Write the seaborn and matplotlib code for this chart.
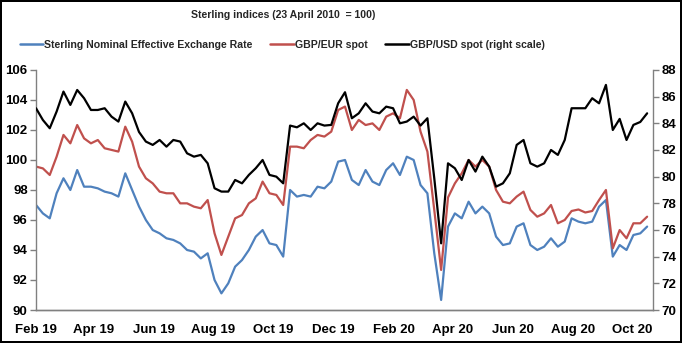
import matplotlib
matplotlib.use("Agg")
import matplotlib.pyplot as plt
import matplotlib.dates as mdates
from matplotlib.lines import Line2D
import numpy as np
import pandas as pd
import seaborn as sns

# Weekly observations, starting Friday 1 February 2019
start_date = "2019-02-01"

# Sterling effective exchange rate index (left scale)
seer = [97.0, 96.44, 96.11, 97.78, 98.78, 98.0, 99.33, 98.22, 98.22, 98.11,
        97.89, 97.78, 97.56, 99.11, 98.0, 96.9, 96.0, 95.33, 95.11, 94.78,
        94.67, 94.44, 94.0, 93.89, 93.44, 93.78, 92.0, 91.11, 91.78, 92.89,
        93.33, 94.0, 94.89, 95.33, 94.44, 94.33, 93.56, 98.0, 97.56, 97.67,
        97.56, 98.22, 98.11, 98.56, 99.89, 100.0, 98.67, 98.33, 99.33, 98.56,
        98.33, 99.33, 99.78, 99.0, 100.22, 100.0, 98.33, 97.78, 93.78, 90.67,
        95.56, 96.44, 96.11, 97.22, 96.44, 96.89, 96.44, 94.89, 94.33, 94.44,
        95.56, 95.78, 94.33, 94.0, 94.22, 94.78, 94.22, 94.56, 96.11, 95.89,
        95.78, 95.89, 96.89, 97.33, 93.56, 94.33, 94.0, 95.0, 95.11, 95.56]

# GBP/EUR spot index (left scale)
gbp_eur = [99.56, 99.44, 99.0, 100.22, 101.67, 101.11, 102.33, 101.44, 101.11, 101.33,
           100.78, 100.67, 100.56, 102.22, 101.22, 99.56, 98.78, 98.44, 97.89, 97.78,
           97.78, 97.11, 97.11, 96.89, 96.78, 97.33, 95.11, 93.67, 94.89, 96.11,
           96.33, 97.11, 97.44, 98.56, 97.78, 97.67, 97.0, 100.89, 100.89, 100.78,
           101.33, 101.67, 101.56, 101.89, 103.33, 103.56, 102.0, 102.67, 102.33, 102.44,
           102.0, 102.89, 103.11, 102.78, 104.67, 104.0, 101.89, 100.56, 96.67, 92.67,
           97.5, 98.44, 99.11, 100.0, 99.56, 100.0, 99.56, 98.0, 97.22, 97.11,
           97.56, 97.89, 96.67, 96.22, 96.44, 97.0, 95.78, 96.0, 96.6, 96.7,
           96.5, 96.6, 97.33, 98.0, 94.11, 95.33, 94.78, 95.78, 95.78, 96.22]

# GBP/USD spot index (right scale)
gbp_usd = [85.13, 84.25, 83.63, 84.88, 86.38, 85.38, 86.5, 85.88, 85.0, 85.0,
           85.13, 84.5, 84.13, 85.63, 84.75, 83.35, 82.63, 82.38, 82.75, 82.25,
           82.75, 82.63, 81.75, 81.5, 81.63, 81.0, 79.13, 78.88, 78.88, 79.75,
           79.5, 80.13, 80.63, 81.25, 80.13, 80.0, 79.5, 83.83, 83.7, 84.0,
           83.5, 84.0, 83.83, 83.88, 85.5, 86.33, 84.38, 84.75, 85.5, 84.88,
           84.75, 85.25, 85.13, 84.0, 84.13, 84.5, 83.83, 84.38, 79.88, 75.0,
           81.0, 80.63, 79.75, 81.25, 80.38, 81.5, 80.75, 79.25, 79.5, 80.25,
           82.38, 82.75, 81.0, 80.75, 81.0, 82.0, 81.63, 82.75, 85.13, 85.13,
           85.13, 85.88, 85.5, 86.88, 83.5, 84.33, 82.75, 83.88, 84.1, 84.75]

dates = pd.date_range(start_date, periods=len(seer), freq="7D")
df = pd.DataFrame({"date": dates, "seer": seer, "eur": gbp_eur, "usd": gbp_usd})

BLUE = "#4F81BD"
RED = "#C0504D"
BLACK = "#000000"
AXIS_GREY = "#808080"

sns.set_theme(style="white")
plt.rcParams["font.family"] = ["Liberation Sans", "DejaVu Sans"]
plt.rcParams["font.weight"] = "bold"

fig = plt.figure(figsize=(6.82, 3.43), dpi=100)
fig.patch.set_edgecolor("black")
fig.patch.set_linewidth(1.5)
ax = fig.add_axes([0.0528, 0.0962, 0.9047, 0.6998])
ax2 = ax.twinx()

sns.lineplot(data=df, x="date", y="seer", ax=ax, color=BLUE, linewidth=1.6)
sns.lineplot(data=df, x="date", y="eur", ax=ax, color=RED, linewidth=1.6)
sns.lineplot(data=df, x="date", y="usd", ax=ax2, color=BLACK, linewidth=1.6)

ax.set_xlim(pd.Timestamp("2019-02-01"), pd.Timestamp("2020-10-22"))
ax.set_ylim(90, 106)
ax.set_yticks(np.arange(90, 107, 2))
ax2.set_ylim(70, 88)
ax2.set_yticks(np.arange(70, 89, 2))

ax.xaxis.set_major_locator(mdates.MonthLocator(bymonth=[2, 4, 6, 8, 10, 12]))
ax.xaxis.set_major_formatter(mdates.DateFormatter("%b %y"))

for a in (ax, ax2):
    a.set_xlabel("")
    a.set_ylabel("")
    a.spines["top"].set_visible(False)
    for side in ("left", "right", "bottom"):
        a.spines[side].set_color(AXIS_GREY)
        a.spines[side].set_linewidth(1.0)
    a.tick_params(axis="both", labelsize=9.5, colors="black", length=4,
                  width=1.0, color=AXIS_GREY, direction="out", pad=2)
ax.spines["right"].set_visible(False)
ax2.spines["left"].set_visible(False)
ax.tick_params(axis="x", pad=6)
ax.tick_params(axis="y", left=True, right=False)
ax2.tick_params(axis="y", left=False, right=True)

fig.text(0.415, 0.955, "Sterling indices (23 April 2010  = 100)", ha="center",
         va="center", fontsize=7.6, fontweight="bold")

handles = [Line2D([], [], color=BLUE, linewidth=1.8),
           Line2D([], [], color=RED, linewidth=1.8),
           Line2D([], [], color=BLACK, linewidth=1.8)]
labels = ["Sterling Nominal Effective Exchange Rate", "GBP/EUR spot",
          "GBP/USD spot (right scale)"]
fig.legend(handles, labels, loc="center left", bbox_to_anchor=(0.029, 0.869),
           ncol=3, frameon=False, fontsize=7.6, handlelength=2.2,
           handletextpad=0.1, columnspacing=1.7, borderpad=0, borderaxespad=0)

fig.savefig("out.png", dpi=100)
